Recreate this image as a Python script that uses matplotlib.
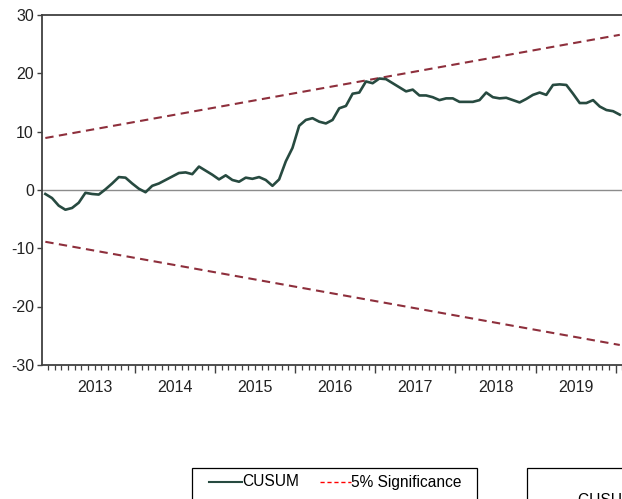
import numpy as np, pandas as pd
import matplotlib
matplotlib.use('Agg')
import matplotlib.pyplot as plt
from matplotlib.patches import Rectangle
from matplotlib.lines import Line2D
from matplotlib.transforms import blended_transform_factory

# monthly CUSUM values, Nov 2012 .. Jan 2020
dates = pd.date_range('2012-11-01', periods=87, freq='MS')
cusum = [-0.7, -1.4, -2.7, -3.4, -3.1, -2.2, -0.5, -0.7, -0.8, 0.1,
         1.1, 2.2, 2.1, 1.1, 0.2, -0.4, 0.7, 1.1, 1.7, 2.3,
         2.9, 3.0, 2.7, 4.0, 3.3, 2.6, 1.8, 2.5, 1.7, 1.4,
         2.1, 1.9, 2.2, 1.7, 0.7, 1.8, 4.9, 7.2, 11.0, 12.0,
         12.3, 11.7, 11.4, 12.0, 14.0, 14.4, 16.5, 16.7, 18.6, 18.3,
         19.1, 19.0, 18.3, 17.6, 16.9, 17.2, 16.2, 16.2, 15.9, 15.4,
         15.7, 15.7, 15.1, 15.1, 15.1, 15.4, 16.7, 15.9, 15.7, 15.8,
         15.4, 15.0, 15.6, 16.3, 16.7, 16.3, 18.0, 18.1, 18.0, 16.5,
         14.9, 14.9, 15.4, 14.3, 13.7, 13.5, 12.9]
# 5% significance bounds at first and last observation
sig_upper = [8.9, 26.6]
sig_lower = [-8.9, -26.6]
years = [2013, 2014, 2015, 2016, 2017, 2018, 2019]
yticks = [-30, -20, -10, 0, 10, 20, 30]

plt.rcParams['font.family'] = ['Liberation Sans', 'DejaVu Sans']

W, H = 622, 499

def month_pos(d):
    # months since Jan 2013, obs drawn a bit past the month tick
    return (d.year - 2013)*12 + (d.month - 1) + 0.6

def main():
    fig = plt.figure(figsize=(W/100, H/100), dpi=100)
    ax = fig.add_axes([42/W, (H-364.8)/H, 583.8/W, 349.8/H])

    x = np.array([month_pos(d) for d in dates])
    ends = [x[0], x[-1]]

    ax.axhline(0, color='#8c8c8c', lw=1.0, zorder=1)
    ax.plot(ends, sig_upper, color='#8e2f3c', lw=1.5, ls=(0, (4, 2.6)), zorder=2)
    ax.plot(ends, sig_lower, color='#8e2f3c', lw=1.5, ls=(0, (4, 2.6)), zorder=2)
    ax.plot(x, cusum, color='#274a40', lw=1.9, zorder=3)

    ax.set_xlim(-1.9, 85.5)
    ax.set_ylim(-30, 30)
    ax.set_yticks(yticks)
    ax.set_yticklabels([str(v) for v in yticks], fontsize=11.5, color='#222222')

    ax.set_xticks(np.arange(12, 85, 12))
    ax.set_xticklabels([])
    ax.set_xticks(np.arange(-1, 86, 1), minor=True)
    ax.tick_params(axis='x', which='major', direction='out', length=5.8, width=1.0, color='#404040')
    ax.tick_params(axis='x', which='minor', direction='out', length=3.4, width=0.9, color='#404040')
    ax.tick_params(axis='y', direction='out', length=3.8, width=1.0, color='#404040', pad=2)

    trans = blended_transform_factory(ax.transData, ax.transAxes)
    for yr in years:
        ax.text((yr - 2013)*12 + 6, -0.064, str(yr), transform=trans,
                ha='center', va='center', fontsize=11.5, color='#222222')

    for side in ('left', 'top', 'bottom'):
        ax.spines[side].set_color('#404040')
        ax.spines[side].set_linewidth(1.3)
    ax.spines['right'].set_visible(False)

    # legend boxes below the plot (cut at the figure edge)
    def px(xp, yp):
        return xp/W, (H - yp)/H

    box1 = Rectangle(px(192, 520), (477-192)/W, (520-468)/H, transform=fig.transFigure,
                     fill=False, ec='black', lw=0.9, clip_on=False)
    box2 = Rectangle(px(527, 520), (700-527)/W, (520-468)/H, transform=fig.transFigure,
                     fill=False, ec='black', lw=0.9, clip_on=False)
    fig.patches.extend([box1, box2])

    ly = 482
    fig.lines.append(Line2D([209/W, 242/W], [(H-ly)/H]*2, color='#274a40', lw=1.5,
                            transform=fig.transFigure))
    fig.lines.append(Line2D([320/W, 351/W], [(H-ly)/H]*2, color='#ff0000', lw=1.0,
                            ls=(0, (3, 2)), transform=fig.transFigure))
    fig.text(*px(242, ly), 'CUSUM', ha='left', va='center', fontsize=11.2, color='black')
    fig.text(*px(351, ly), '5% Significance', ha='left', va='center', fontsize=11.2, color='black')
    fig.text(*px(578, 505), 'CUSUM of Squares', ha='left', va='baseline', fontsize=11.2, color='black')

    fig.savefig('out.png', dpi=100)

if __name__ == '__main__':
    main()
